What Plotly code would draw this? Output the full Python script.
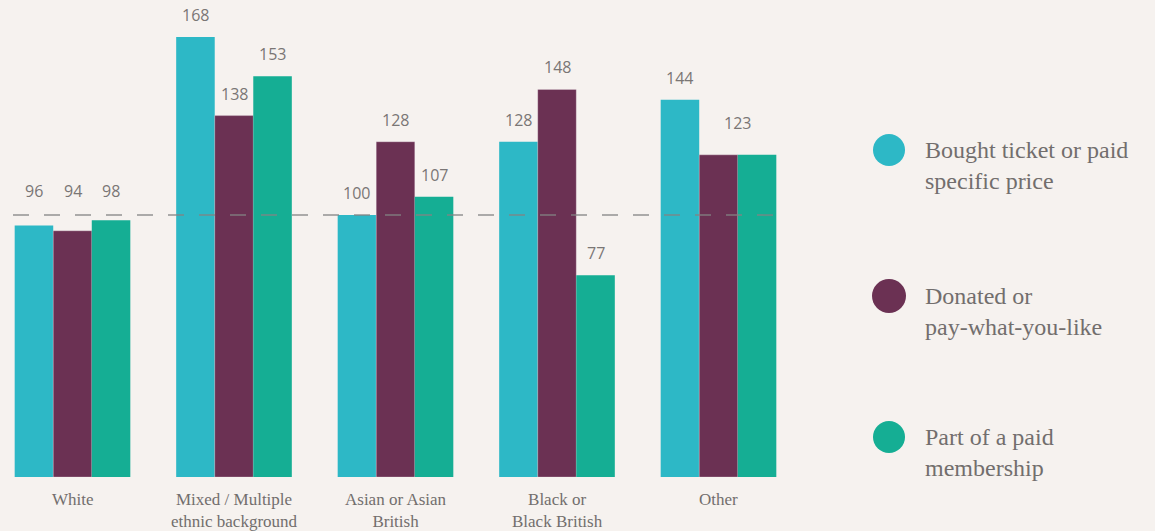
import plotly.graph_objects as go

# ---- data ----
categories = ["White", "Mixed / Multiple<br>ethnic background", "Asian or Asian<br>British",
              "Black or<br>Black British", "Other"]
series_names = ["Bought ticket or paid<br>specific price",
                "Donated or<br>pay-what-you-like",
                "Part of a paid<br>membership"]
bought = [96, 168, 100, 128, 144]
donated = [94, 138, 128, 148, 123]
membership = [98, 153, 107, 77, 123]
reference_value = 100

# ---- styles ----
colors = ["#2db8c6", "#6b3153", "#15ae94"]
bg = "#f6f2ef"
text_grey = "#726e6d"
num_grey = "#7a7675"
serif = "Liberation Serif, Times New Roman, serif"
sans = "Open Sans, Noto Sans, sans-serif"

series_values = [bought, donated, membership]
xpos = list(range(len(categories)))

# layout geometry (pixels)
W, H = 1155, 531
ml, mr, mt, mb = 13, 1155 - 787, 0, 54
plot_w = W - ml - mr
plot_h = H - mt - mb
px_per_cat = 161.5
first_center_px = 72.5
x0_range = -(first_center_px - ml) / px_per_cat
x1_range = x0_range + plot_w / px_per_cat
px_per_unit_y = 2.619
y_top = plot_h / px_per_unit_y
bargap = 0.284
bar_w = (1 - bargap) / 3
label_gap_px = 22      # label centre above bar top
line_clear_px = 18     # min distance from dashed line
above_line_px = 24     # label centre above the dashed line when moved

fig = go.Figure()
for i, (name, vals) in enumerate(zip(series_names, series_values)):
    fig.add_trace(go.Bar(
        x=xpos, y=vals, name=name,
        marker=dict(color=colors[i],
                    line=dict(width=1 if i == 1 else 0, color="rgba(255,255,255,0.25)")),
        showlegend=False, hoverinfo="y",
    ))

annotations = []
# value labels
for ci in range(len(categories)):
    vals = [s[ci] for s in series_values]
    skip = set()
    merged = {}
    if vals[1] == vals[2]:
        skip.add(2)
        merged[1] = (xpos[ci] + 0.5 * bar_w, max(vals[1], vals[2]))
    for si in range(3):
        if si in skip:
            continue
        if si in merged:
            xx, yy = merged[si]
            shift = label_gap_px + 10
        else:
            xx = xpos[ci] + (si - 1) * bar_w
            yy = vals[si]
            shift = label_gap_px
            centre_val = yy + shift / px_per_unit_y
            if abs(centre_val - reference_value) * px_per_unit_y < line_clear_px:
                yy = reference_value
                shift = above_line_px
        annotations.append(dict(
            x=xx, y=yy, xref="x", yref="y", text=str(vals[si]), showarrow=False,
            yanchor="middle", xanchor="center", yshift=shift,
            font=dict(family=sans, size=16, color=num_grey)))

# category labels
for ci, cat in enumerate(categories):
    annotations.append(dict(
        x=xpos[ci], y=0, xref="x", yref="y", text=cat, showarrow=False,
        yanchor="top", xanchor="center", yshift=-11,
        font=dict(family=serif, size=17, color=text_grey)))

# legend (custom)
def px_to_paper_x(px):
    return (px - ml) / plot_w

def py_to_paper_y(py):
    return (mt + plot_h - py) / plot_h

legend_circle_y = [150, 296, 437]
legend_text_y = [165.5, 311.5, 452]
shapes = []
for i, name in enumerate(series_names):
    r = 16 if i != 1 else 17
    shapes.append(dict(
        type="circle", xref="paper", yref="paper",
        xsizemode="pixel", ysizemode="pixel",
        xanchor=px_to_paper_x(889), yanchor=py_to_paper_y(legend_circle_y[i]),
        x0=-r, x1=r, y0=-r, y1=r,
        fillcolor=colors[i], line=dict(width=0)))
    annotations.append(dict(
        x=px_to_paper_x(923), y=py_to_paper_y(legend_text_y[i]), xref="paper", yref="paper",
        text=name, showarrow=False, xanchor="left", yanchor="middle", align="left",
        font=dict(family=serif, size=24, color=text_grey)))

# reference dashed line
shapes.append(dict(
    type="line", xref="paper", yref="y", x0=0, x1=1, y0=reference_value, y1=reference_value,
    line=dict(color="rgba(130,130,130,0.65)", width=2, dash="16px,15px"), layer="above"))

fig.update_layout(
    width=W, height=H,
    margin=dict(l=ml, r=mr, t=mt, b=mb),
    paper_bgcolor=bg, plot_bgcolor=bg,
    barmode="group", bargap=bargap, bargroupgap=0,
    xaxis=dict(range=[x0_range, x1_range], showticklabels=False, showgrid=False,
               zeroline=False, showline=False, ticks=""),
    yaxis=dict(range=[0, y_top], showticklabels=False, showgrid=False,
               zeroline=False, showline=False, ticks=""),
    annotations=annotations, shapes=shapes,
)

fig.write_html("out.html", config={"displayModeBar": False},
               post_script="document.body.style.margin='0';document.body.style.overflow='hidden';document.body.style.background='" + bg + "';")
